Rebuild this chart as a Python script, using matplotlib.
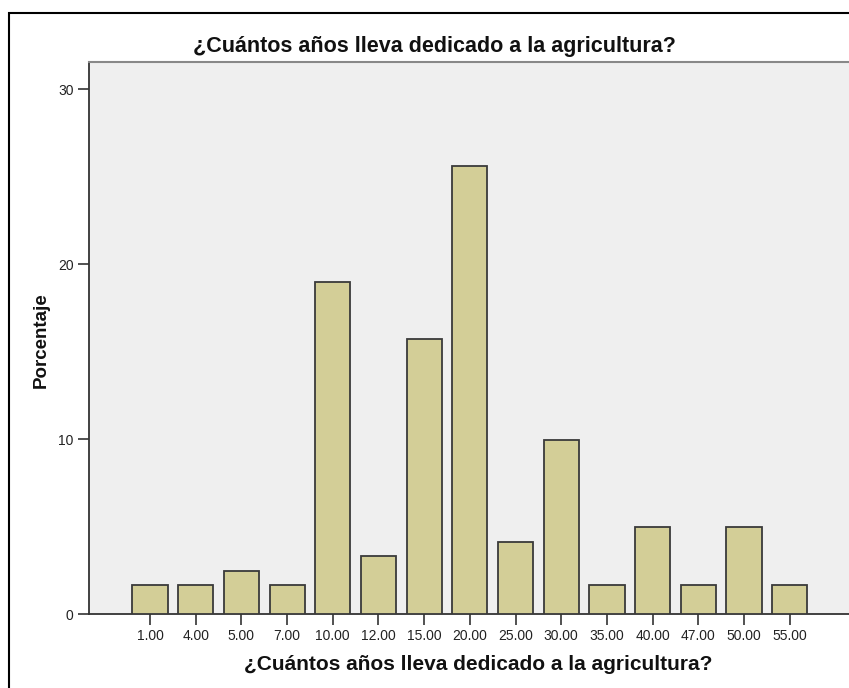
import matplotlib.pyplot as plt
from matplotlib.patches import Rectangle

# years in agriculture (category labels) and percentage of respondents
categorias = ['1.00', '4.00', '5.00', '7.00', '10.00', '12.00', '15.00', '20.00',
              '25.00', '30.00', '35.00', '40.00', '47.00', '50.00', '55.00']
porcentaje = [1.65, 1.65, 2.48, 1.65, 19.01, 3.31, 15.70, 25.62,
              4.13, 9.92, 1.65, 4.96, 1.65, 4.96, 1.65]
yticks = [0, 10, 20, 30]

titulo = '¿Cuántos años lleva dedicado a la agricultura?'

plt.rcParams['font.family'] = ['Liberation Sans', 'DejaVu Sans']

W, H = 849, 688
fig = plt.figure(figsize=(W / 100, H / 100), dpi=100)

# outer chart frame (cropped on the right and bottom)
fig.add_artist(Rectangle((9 / W, -0.1), 1.0, 1 - 13 / H + 0.1,
                         transform=fig.transFigure, fill=False,
                         edgecolor='black', linewidth=1.5, clip_on=False))

ax = fig.add_axes([89 / W, 1 - 614 / H, (851 - 89) / W, (614 - 62) / H])
ax.set_facecolor('#efefef')

x = range(len(categorias))
ax.bar(x, porcentaje, width=0.77, color='#d3ce97', edgecolor='#3a3a3a',
       linewidth=1.3, zorder=3)

ax.set_xlim(-1.335, 15.34)
ax.set_ylim(0, 31.56)
ax.set_xticks(list(x))
ax.set_xticklabels(categorias)
ax.set_yticks(yticks)
ax.tick_params(axis='both', direction='out', length=8, width=1.2,
               colors='#333333', labelsize=10, labelcolor='#222222', pad=3)

for side in ['left', 'bottom']:
    ax.spines[side].set_color('#333333')
    ax.spines[side].set_linewidth(1.3)
ax.spines['top'].set_color('#888888')
ax.spines['top'].set_linewidth(1.5)
ax.spines['right'].set_visible(False)

fig.text(434 / W, 1 - 52 / H, titulo, ha='center', va='baseline',
         fontsize=15.5, fontweight='bold', color='#111111')
fig.text(478 / W, 1 - 664 / H, titulo, ha='center', va='center',
         fontsize=15, fontweight='bold', color='#111111')
fig.text(41 / W, 1 - 340 / H, 'Porcentaje', ha='center', va='center',
         rotation=90, fontsize=13.5, fontweight='bold', color='#111111')

fig.savefig('out.png', dpi=100)
